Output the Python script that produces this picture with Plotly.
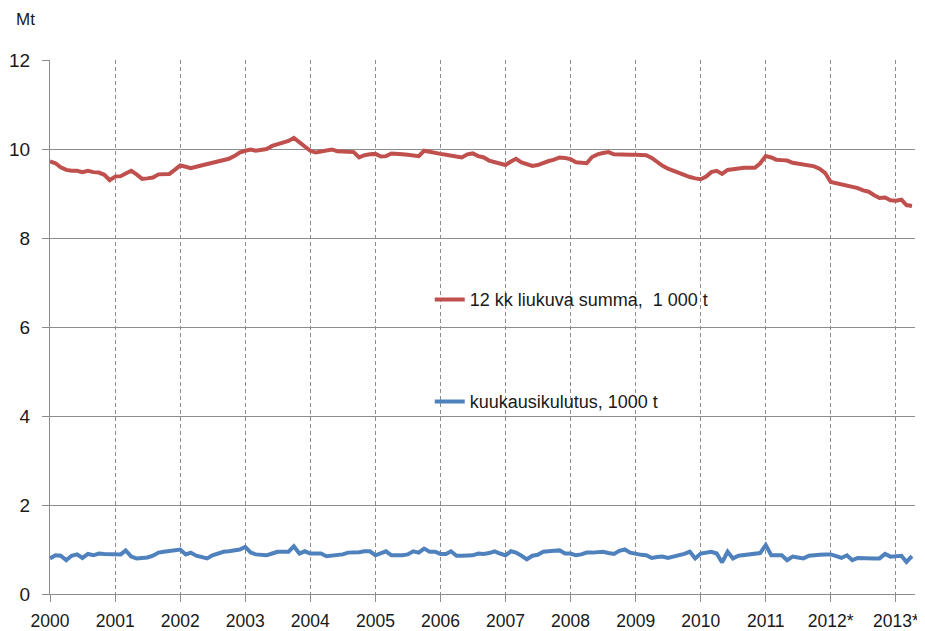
import plotly.graph_objects as go
import pandas as pd

months = pd.date_range("2000-01-01", periods=160, freq="MS")

rolling_12m = [
    9.72, 9.68, 9.59, 9.53, 9.51, 9.51, 9.48, 9.51, 9.48, 9.47, 9.42, 9.30,
    9.38, 9.39, 9.45, 9.51, 9.43, 9.33, 9.34, 9.36, 9.43, 9.43, 9.44, 9.53,
    9.63, 9.60, 9.57, 9.60, 9.63, 9.66, 9.70, 9.73, 9.74, 9.78, 9.84, 9.92,
    9.96, 9.99, 9.96, 9.98, 10.00, 10.07, 10.11, 10.15, 10.18, 10.25, 10.15, 10.05,
    9.96, 9.92, 9.95, 9.97, 9.99, 9.95, 9.94, 9.93, 9.93, 9.81, 9.86, 9.88,
    9.89, 9.83, 9.84, 9.90, 9.90, 9.88, 9.87, 9.85, 9.84, 9.96, 9.93, 9.92,
    9.89, 9.87, 9.85, 9.83, 9.81, 9.88, 9.90, 9.84, 9.81, 9.74, 9.70, 9.66,
    9.64, 9.72, 9.78, 9.70, 9.66, 9.62, 9.64, 9.69, 9.73, 9.76, 9.81, 9.80,
    9.77, 9.70, 9.68, 9.68, 9.82, 9.88, 9.91, 9.93, 9.88, 9.87, 9.87, 9.87,
    9.87, 9.87, 9.86, 9.80, 9.70, 9.62, 9.56, 9.51, 9.47, 9.42, 9.37, 9.34,
    9.32, 9.38, 9.48, 9.51, 9.44, 9.53, 9.55, 9.55, 9.58, 9.58, 9.58, 9.68,
    9.84, 9.81, 9.76, 9.75, 9.74, 9.69, 9.67, 9.66, 9.64, 9.61, 9.55, 9.46,
    9.26, 9.23, 9.22, 9.17, 9.15, 9.12, 9.07, 9.04, 8.96, 8.90, 8.91, 8.85,
    8.84, 8.86, 8.74, 8.72,
]

monthly = [
    0.80, 0.87, 0.86, 0.76, 0.86, 0.89, 0.81, 0.90, 0.87, 0.91, 0.90, 0.90,
    0.90, 0.89, 0.98, 0.84, 0.80, 0.80, 0.82, 0.86, 0.93, 0.95, 0.96, 0.97,
    1.00, 0.89, 0.93, 0.86, 0.83, 0.80, 0.87, 0.91, 0.95, 0.96, 0.98, 1.00,
    1.06, 0.93, 0.89, 0.88, 0.87, 0.91, 0.95, 0.95, 0.95, 1.07, 0.91, 0.96,
    0.91, 0.91, 0.91, 0.85, 0.86, 0.88, 0.89, 0.93, 0.93, 0.94, 0.96, 0.96,
    0.87, 0.91, 0.96, 0.87, 0.86, 0.87, 0.89, 0.96, 0.93, 1.02, 0.95, 0.95,
    0.90, 0.90, 0.96, 0.86, 0.86, 0.87, 0.87, 0.91, 0.90, 0.92, 0.96, 0.91,
    0.87, 0.96, 0.93, 0.86, 0.78, 0.86, 0.88, 0.95, 0.97, 0.97, 0.98, 0.91,
    0.91, 0.87, 0.89, 0.93, 0.93, 0.93, 0.95, 0.92, 0.90, 0.97, 1.00, 0.93,
    0.90, 0.88, 0.87, 0.81, 0.83, 0.84, 0.81, 0.84, 0.86, 0.90, 0.95, 0.80,
    0.91, 0.93, 0.95, 0.91, 0.71, 0.95, 0.80, 0.86, 0.88, 0.90, 0.91, 0.92,
    1.10, 0.87, 0.87, 0.87, 0.76, 0.84, 0.82, 0.80, 0.86, 0.86, 0.88, 0.89,
    0.89, 0.85, 0.81, 0.87, 0.76, 0.81, 0.80, 0.80, 0.80, 0.80, 0.90, 0.84,
    0.85, 0.86, 0.72, 0.85,
]

year_ticks = [f"{y}-01-01" for y in range(2000, 2014)]
year_labels = [str(y) for y in range(2000, 2012)] + ["2012*", "2013*"]
y_ticks = [0, 2, 4, 6, 8, 10, 12]

RED = "#C0504D"
BLUE = "#4F81BD"
GRID = "#8C8C8C"
FONT = "Liberation Sans"

fig = go.Figure()
fig.add_trace(go.Scatter(
    x=months, y=rolling_12m, mode="lines",
    name="12 kk liukuva summa,  1 000 t",
    line=dict(color=RED, width=4), legend="legend",
))
fig.add_trace(go.Scatter(
    x=months, y=monthly, mode="lines",
    name="kuukausikulutus, 1000 t",
    line=dict(color=BLUE, width=4), legend="legend2",
))

legend_style = dict(
    bgcolor="rgba(0,0,0,0)", borderwidth=0,
    font=dict(family=FONT, size=18, color="#1a1a1a"),
    xanchor="left", yanchor="middle", itemwidth=30,
)

fig.update_layout(
    width=917, height=623,
    paper_bgcolor="white", plot_bgcolor="white",
    margin=dict(l=42, r=10, t=52, b=37, autoexpand=False),
    font=dict(family=FONT, size=18, color="#1a1a1a"),
    showlegend=True,
    legend=dict(x=0.439, y=0.551, **legend_style),
    legend2=dict(x=0.439, y=0.36, **legend_style),
    xaxis=dict(
        type="date", automargin=False,
        range=["2000-01-01", "2013-04-18"],
        tickmode="array", tickvals=year_ticks, ticktext=year_labels,
        showgrid=True, gridcolor=GRID, griddash="4px,3px", gridwidth=1,
        showline=True, linecolor=GRID, linewidth=1,
        ticks="outside", ticklen=7, tickcolor=GRID,
        ticklabelstandoff=4,
        tickfont=dict(family=FONT, size=17.5, color="#1a1a1a"),
        zeroline=False,
    ),
    yaxis=dict(
        range=[0, 12], tickvals=y_ticks, automargin=False,
        showgrid=True, gridcolor=GRID, gridwidth=1,
        showline=True, linecolor=GRID, linewidth=1,
        ticks="outside", ticklen=7, tickcolor=GRID,
        ticklabelstandoff=8,
        tickfont=dict(family=FONT, size=19, color="#1a1a1a"),
        zeroline=False,
    ),
    annotations=[dict(
        text="Mt", xref="paper", yref="paper",
        x=-0.042, y=1.055, xanchor="left", yanchor="bottom",
        showarrow=False, font=dict(family=FONT, size=17, color="#1a1a1a"),
    )],
)

fig.write_html("out.html")
